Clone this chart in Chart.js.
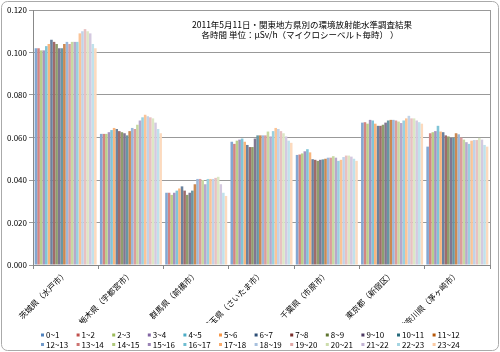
<!DOCTYPE html>
<html>
<head>
<meta charset="utf-8">
<title>関東地方県別の環境放射能水準調査結果</title>
<script src="https://cdn.jsdelivr.net/npm/chart.js"></script>
<style>
  html, body { margin: 0; padding: 0; background: #fff; }
  #wrap { position: relative; width: 500px; height: 352px; }
</style>
</head>
<body>
<div id="wrap"><canvas id="chart" width="500" height="352"></canvas></div>
<script>
// categories (prefecture / measuring point)
const prefectures = ['茨城県（水戸市）', '栃木県（宇都宮市）', '群馬県（前橋市）', '埼玉県（さいたま市）',
  '千葉県（市原市）', '東京都（新宿区）', '神奈川県（茅ヶ崎市）'];

// hourly series names
const hours = ['0~1', '1~2', '2~3', '3~4', '4~5', '5~6', '6~7', '7~8', '8~9', '9~10', '10~11', '11~12',
  '12~13', '13~14', '14~15', '15~16', '16~17', '17~18', '18~19', '19~20', '20~21', '21~22', '22~23', '23~24'];

// μSv/h per hour
const ibaraki = [0.102, 0.102, 0.101, 0.101, 0.103, 0.104, 0.106, 0.105, 0.104, 0.102, 0.102, 0.104,
  0.105, 0.104, 0.105, 0.105, 0.105, 0.109, 0.110, 0.111, 0.110, 0.109, 0.104, 0.102];
const tochigi = [0.0617, 0.0617, 0.0617, 0.0625, 0.0635, 0.0645, 0.064, 0.063, 0.0625, 0.062, 0.061, 0.063,
  0.0645, 0.064, 0.066, 0.068, 0.0695, 0.0707, 0.070, 0.0695, 0.069, 0.067, 0.064, 0.062];
const gunma = [0.034, 0.034, 0.033, 0.034, 0.035, 0.036, 0.037, 0.035, 0.033, 0.034, 0.035, 0.038,
  0.0405, 0.0405, 0.040, 0.038, 0.0405, 0.0405, 0.0405, 0.041, 0.0415, 0.038, 0.034, 0.0325];
const saitama = [0.058, 0.057, 0.0585, 0.059, 0.0595, 0.058, 0.0565, 0.0555, 0.0555, 0.0595, 0.061, 0.061,
  0.061, 0.061, 0.0628, 0.0605, 0.063, 0.0645, 0.064, 0.063, 0.062, 0.0605, 0.0585, 0.0575];
const chiba = [0.0518, 0.052, 0.0525, 0.0535, 0.0545, 0.053, 0.0498, 0.0495, 0.049, 0.0495, 0.0497, 0.050,
  0.0505, 0.0505, 0.0512, 0.0505, 0.049, 0.0495, 0.0508, 0.0515, 0.0515, 0.051, 0.050, 0.049];
const tokyo = [0.067, 0.0672, 0.0665, 0.0683, 0.068, 0.0665, 0.0655, 0.0655, 0.066, 0.067, 0.068, 0.0683,
  0.0683, 0.068, 0.0675, 0.0668, 0.068, 0.069, 0.0702, 0.069, 0.069, 0.068, 0.0672, 0.0665];
const kanagawa = [0.0557, 0.062, 0.0625, 0.063, 0.0655, 0.0628, 0.0625, 0.061, 0.0605, 0.0598, 0.0598, 0.062,
  0.0615, 0.060, 0.059, 0.0578, 0.057, 0.0585, 0.0588, 0.0588, 0.0598, 0.059, 0.0565, 0.0557];

const yTicks = [0, 0.02, 0.04, 0.06, 0.08, 0.10, 0.12];

const titleLines = ['2011年5月11日・関東地方県別の環境放射能水準調査結果',
  '各時間 単位：μSv/h（マイクロシーベルト毎時） ）'];

// office 2007 style palette, one per hour
const colors = ['#4F81BD', '#C0504D', '#9BBB59', '#8064A2', '#4BACC6', '#F79646',
  '#2C4D75', '#772C2A', '#5F7530', '#4D3B62', '#276A7C', '#B65708',
  '#729ACA', '#CD7371', '#AFC97A', '#9983B5', '#6FBDD1', '#F9AB6B',
  '#A7C0DE', '#DFA7A6', '#CDDDAC', '#C1B2D3', '#A5D5E2', '#FBCAA2'];

function lighten(hex, t) {
  const n = parseInt(hex.slice(1), 16);
  const r = (n >> 16) & 255, g = (n >> 8) & 255, b = n & 255;
  const m = v => Math.round(v + (255 - v) * t);
  return 'rgb(' + m(r) + ',' + m(g) + ',' + m(b) + ')';
}

const rows = [ibaraki, tochigi, gunma, saitama, chiba, tokyo, kanagawa];

const datasets = hours.map((h, i) => ({
  label: h,
  data: rows.map(r => r[i]),
  backgroundColor: lighten(colors[i], 0.3),
  borderColor: colors[i],
  borderWidth: 0,
  categoryPercentage: 0.95,
  barPercentage: 1.0,
}));

const decor = {
  id: 'decor',
  afterDraw(chart) {
    const c = chart.ctx;
    const a = chart.chartArea;
    c.save();
    // plot area right edge
    c.strokeStyle = '#999';
    c.lineWidth = 1;
    c.beginPath();
    c.moveTo(Math.round(a.right) + 0.5, a.top);
    c.lineTo(Math.round(a.right) + 0.5, a.bottom);
    c.stroke();

    // title inside plot
    c.fillStyle = '#000';
    c.font = '8.5px "Noto Sans CJK JP"';
    c.textAlign = 'center';
    c.textBaseline = 'middle';
    c.fillText(titleLines[0], 302, 25);
    c.fillText(titleLines[1], 300, 34.5);

    // legend grid, 12 per row
    c.font = '8px "Noto Sans CJK JP"';
    c.textAlign = 'left';
    chart.data.datasets.forEach((ds, i) => {
      const col = i % 12, row = Math.floor(i / 12);
      const x = 41 + col * 35.6, y = 335 + row * 9.5;
      c.fillStyle = ds.borderColor;
      c.fillRect(x, y - 1.5, 3, 3);
      c.fillStyle = '#000';
      c.fillText(ds.label, x + 5, y);
    });

    // outer frame
    c.strokeStyle = '#aaa';
    c.beginPath();
    c.roundRect(1.5, 1.5, 497, 349, 6);
    c.stroke();
    c.restore();
  }
};

Chart.defaults.font.family = '"Noto Sans CJK JP", sans-serif';
Chart.defaults.color = '#000';

new Chart(document.getElementById('chart'), {
  type: 'bar',
  data: { labels: prefectures, datasets: datasets },
  options: {
    responsive: false,
    animation: false,
    layout: { padding: { left: 0, right: 10, top: 10, bottom: 29 } },
    plugins: {
      legend: { display: false },
      title: { display: false },
      tooltip: { enabled: false },
    },
    scales: {
      x: {
        offset: true,
        grid: { offset: true, drawOnChartArea: false, tickLength: 4, color: '#888' },
        border: { color: '#888' },
        ticks: { minRotation: 45, maxRotation: 45, autoSkip: false, padding: 0, font: { size: 8 } },
        afterFit: s => { s.height = 58; },
      },
      y: {
        min: 0,
        max: 0.12,
        afterBuildTicks: s => { s.ticks = yTicks.map(v => ({ value: v })); },
        grid: { color: '#999', tickLength: 4 },
        border: { color: '#888' },
        ticks: { padding: 2, font: { size: 8 }, callback: v => v.toFixed(3) },
        afterFit: s => { s.width = 33; },
      },
    },
  },
  plugins: [decor],
});
</script>
</body>
</html>
